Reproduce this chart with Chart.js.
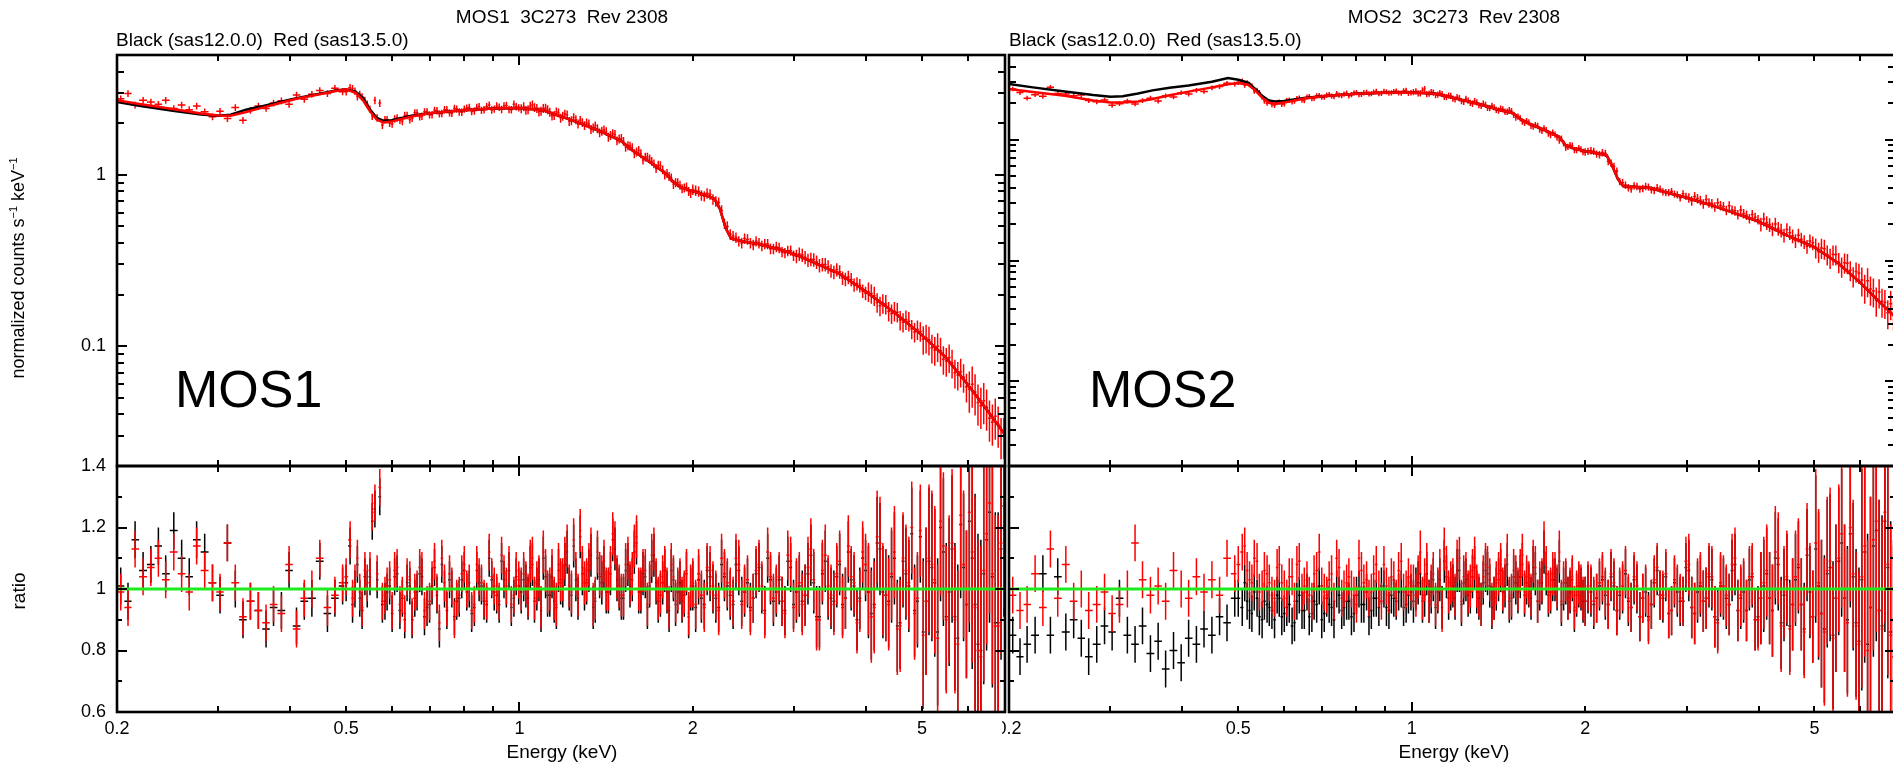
<!DOCTYPE html>
<html>
<head>
<meta charset="utf-8">
<script src="https://cdn.jsdelivr.net/npm/chart.js@4.4.1/dist/chart.umd.min.js"></script>
<style>
    html, body { margin: 0; padding: 0; background: #fff; width: 1893px; height: 764px; overflow: hidden; }
    canvas { position: absolute; left: 0; top: 0; }
    .txt { position: absolute; font-family: "Liberation Sans", Arial, Helvetica, sans-serif; color: #000; line-height: 1; white-space: pre; }
    .txt sup { font-size: 11px; position: relative; top: -1px; vertical-align: top; }
    .mask { position: absolute; background: #fff; }
</style>
</head>
<body>
<canvas id="mos1Spec" width="1900" height="764"></canvas>
<canvas id="mos1Ratio" width="1900" height="764"></canvas>
<canvas id="mos2Spec" width="1900" height="764"></canvas>
<canvas id="mos2Ratio" width="1900" height="764"></canvas>
<!-- the MOS1 page overlaps the left edge of the MOS2 "0.2" label -->
<div class="mask" style="left:990px;top:716px;width:12px;height:26px"></div>

<div class="txt" style="left:562px;top:7px;font-size:19px;transform:translateX(-50%)">MOS1  3C273  Rev 2308</div>
<div class="txt" style="left:1454px;top:7px;font-size:19px;transform:translateX(-50%)">MOS2  3C273  Rev 2308</div>
<div class="txt" style="left:116px;top:30px;font-size:19px">Black (sas12.0.0)  Red (sas13.5.0)</div>
<div class="txt" style="left:1009px;top:30px;font-size:19px">Black (sas12.0.0)  Red (sas13.5.0)</div>
<div class="txt" style="left:18px;top:268px;font-size:18px;transform:translate(-50%,-50%) rotate(-90deg)">normalized counts s<sup>−1</sup> keV<sup>−1</sup></div>
<div class="txt" style="left:18px;top:591px;font-size:19px;transform:translate(-50%,-50%) rotate(-90deg)">ratio</div>
<div class="txt" style="left:175px;top:363px;font-size:52px">MOS1</div>
<div class="txt" style="left:1089px;top:363px;font-size:52px">MOS2</div>
<div class="txt" style="left:562px;top:742px;font-size:19px;transform:translateX(-50%)">Energy (keV)</div>
<div class="txt" style="left:1454px;top:742px;font-size:19px;transform:translateX(-50%)">Energy (keV)</div>

<script>
// bin centres (keV), shared by both cameras
const energy = [
    0.203, 0.209, 0.215, 0.222, 0.229, 0.236, 0.243, 0.251, 0.259, 0.267, 0.275, 0.284, 0.293, 0.302, 0.311, 0.321, 0.331, 0.341, 0.352, 0.363, 0.374, 0.386, 0.398, 0.410, 0.423, 0.436, 0.450, 0.464, 0.478, 0.493,
    0.508, 0.518, 0.528, 0.539, 0.550, 0.561, 0.572, 0.584, 0.595, 0.607, 0.620, 0.632, 0.645, 0.658, 0.671, 0.684, 0.698, 0.712, 0.726, 0.741, 0.756, 0.771, 0.786, 0.802, 0.818, 0.835, 0.851, 0.868, 0.886, 0.904, 0.922, 0.940, 0.959, 0.978, 0.997,
    1.017, 1.035, 1.053, 1.072, 1.090, 1.110, 1.129, 1.149, 1.169, 1.189, 1.210, 1.231, 1.253, 1.275, 1.297, 1.320, 1.343, 1.366, 1.390, 1.415, 1.439, 1.465, 1.490, 1.516, 1.543, 1.570, 1.597, 1.625, 1.654, 1.683, 1.712, 1.742, 1.773, 1.804, 1.835, 1.867, 1.900, 1.933, 1.967, 2.000,
    2.047, 2.094, 2.143, 2.193, 2.244, 2.296, 2.350, 2.404, 2.460, 2.518, 2.576, 2.636, 2.698, 2.761, 2.825, 2.891, 2.958, 3.027, 3.098, 3.170, 3.244, 3.319, 3.397, 3.476, 3.557, 3.640, 3.725, 3.812, 3.900, 3.991,
    4.084, 4.180, 4.277, 4.377, 4.479, 4.583, 4.690, 4.800, 4.911, 5.026, 5.143, 5.263, 5.386, 5.511, 5.640, 5.771, 5.906, 6.043, 6.184, 6.329, 6.476, 6.627, 6.782, 6.940, 7.100
];
// extra, narrower bins above 0.5 keV
const energyFine = [
    0.500, 0.513, 0.523, 0.533, 0.544, 0.555, 0.566, 0.578, 0.589, 0.601, 0.613, 0.626, 0.638, 0.651, 0.664, 0.677, 0.691, 0.705, 0.719, 0.733, 0.748, 0.763, 0.778, 0.794, 0.810, 0.826, 0.843, 0.859, 0.877, 0.895, 0.913, 0.931, 0.949, 0.968, 0.987, 1.007,
    1.026, 1.044, 1.062, 1.081, 1.100, 1.119, 1.139, 1.159, 1.179, 1.199, 1.220, 1.242, 1.264, 1.286, 1.308, 1.331, 1.354, 1.378, 1.402, 1.427, 1.452, 1.477, 1.503, 1.529, 1.556, 1.583, 1.611, 1.639, 1.668, 1.697, 1.727, 1.757, 1.788, 1.819, 1.851, 1.883, 1.916, 1.950, 1.983, 2.023,
    2.070, 2.118, 2.168, 2.218, 2.270, 2.323, 2.377, 2.432, 2.489, 2.547, 2.606, 2.667, 2.729, 2.793, 2.858, 2.924, 2.992, 3.062, 3.134, 3.207, 3.281, 3.358, 3.436, 3.516, 3.598, 3.682, 3.768, 3.856, 3.945, 4.037,
    4.132, 4.228, 4.327, 4.428, 4.531, 4.636, 4.745, 4.855, 4.968, 5.084, 5.203, 5.324, 5.448, 5.575, 5.705, 5.838, 5.974, 6.113, 6.256, 6.402, 6.551, 6.704, 6.861, 7.020
];

// red data, normalized counts s-1 keV-1
const mos1Counts = [
    2.78, 2.98, 2.55, 2.72, 2.66, 2.58, 2.72, 2.44, 2.55, 2.40, 2.52, 2.33, 2.18,
    2.35, 2.13, 2.47, 2.08, 2.38, 2.52, 2.44, 2.62, 2.70, 2.58, 2.92, 2.76, 2.95, 3.10, 2.98, 3.20, 3.05,
    3.22, 3.08, 2.95, 2.72, 2.42, 2.72, 2.62, 2.10, 2.00, 2.12, 2.08, 2.22, 2.10, 2.30, 2.18, 2.33, 2.24, 2.38, 2.27, 2.40, 2.30, 2.44, 2.33, 2.42, 2.47, 2.36, 2.50, 2.40, 2.55, 2.42, 2.48, 2.52, 2.41, 2.58, 2.46,
    2.50, 2.40, 2.56, 2.44, 2.35, 2.45, 2.32, 2.22, 2.30, 2.20, 2.24, 2.07, 2.10, 2.08, 1.94, 1.98, 1.88, 1.86, 1.80, 1.79, 1.70, 1.72, 1.62, 1.57, 1.48, 1.44, 1.36, 1.33, 1.27, 1.24, 1.16, 1.14, 1.07, 1.02, 0.96, 0.90, 0.87, 0.84, 0.80, 0.82,
    0.80, 0.75, 0.77, 0.70, 0.62, 0.50, 0.44, 0.41, 0.425, 0.40, 0.41, 0.385, 0.395, 0.37, 0.375, 0.35, 0.362, 0.335, 0.34, 0.318, 0.32, 0.296, 0.30, 0.276, 0.28, 0.25, 0.253, 0.228, 0.226, 0.204,
    0.203, 0.18, 0.178, 0.16, 0.16, 0.142, 0.143, 0.126, 0.125, 0.11, 0.109, 0.095, 0.094, 0.082, 0.08, 0.068, 0.066, 0.056, 0.054, 0.045, 0.044, 0.036, 0.035, 0.03, 0.029
];
const mos1CountsFine = [
    3.05, 3.18, 2.86, 2.85, 2.58, 2.20, 2.15, 1.95, 2.10, 1.98, 2.15, 2.05, 2.22, 2.14, 2.30, 2.20, 2.34, 2.24, 2.37, 2.28, 2.40, 2.29, 2.42, 2.32, 2.45, 2.34, 2.47, 2.38, 2.50, 2.39, 2.52, 2.41, 2.54, 2.40, 2.50, 2.43,
    2.38, 2.52, 2.47, 2.33, 2.44, 2.40, 2.21, 2.33, 2.14, 2.26, 2.05, 2.16, 1.98, 2.02, 2.01, 1.84, 1.93, 1.76, 1.83, 1.66, 1.74, 1.58, 1.63, 1.45, 1.47, 1.33, 1.39, 1.22, 1.27, 1.20, 1.09, 1.13, 1.00, 0.98, 0.88, 0.90, 0.83, 0.85, 0.78, 0.81,
    0.76, 0.78, 0.72, 0.69, 0.52, 0.45, 0.43, 0.40, 0.42, 0.39, 0.40, 0.395, 0.37, 0.38, 0.355, 0.36, 0.338, 0.345, 0.33, 0.322, 0.31, 0.30, 0.291, 0.27, 0.272, 0.246, 0.245, 0.232, 0.21, 0.208,
    0.197, 0.172, 0.176, 0.155, 0.158, 0.138, 0.14, 0.121, 0.122, 0.112, 0.098, 0.10, 0.084, 0.086, 0.07, 0.071, 0.058, 0.06, 0.047, 0.048, 0.038, 0.039, 0.03, 0.031
];
const mos2Counts = [
    2.62, 2.45, 2.20, 2.35, 2.28, 2.70, 2.40, 2.38, 2.30, 2.33, 2.10, 2.05, 2.12,
    1.92, 1.98, 2.08, 1.97, 2.10, 2.20, 2.08, 2.30, 2.25, 2.44, 2.38, 2.55, 2.50, 2.68, 2.74, 2.92, 2.88,
    3.05, 2.95, 2.78, 2.55, 2.25, 2.00, 1.95, 2.02, 1.96, 2.10, 2.05, 2.18, 2.12, 2.24, 2.18, 2.30, 2.24, 2.33, 2.29, 2.40, 2.31, 2.42, 2.35, 2.45, 2.37, 2.46, 2.40, 2.50, 2.41, 2.48, 2.43, 2.52, 2.42, 2.55, 2.44,
    2.50, 2.41, 2.62, 2.40, 2.45, 2.36, 2.38, 2.25, 2.30, 2.15, 2.20, 2.05, 2.10, 1.98, 2.03, 1.90, 1.94, 1.82, 1.85, 1.74, 1.78, 1.70, 1.72, 1.52, 1.50, 1.38, 1.39, 1.28, 1.30, 1.18, 1.20, 1.09, 1.10, 0.98, 0.93, 0.87, 0.89, 0.82, 0.83, 0.79,
    0.81, 0.76, 0.78, 0.66, 0.60, 0.45, 0.42, 0.39, 0.41, 0.395, 0.405, 0.38, 0.39, 0.365, 0.372, 0.35, 0.356, 0.33, 0.338, 0.315, 0.32, 0.296, 0.30, 0.28, 0.283, 0.258, 0.262, 0.238, 0.24, 0.218,
    0.22, 0.198, 0.20, 0.178, 0.18, 0.16, 0.162, 0.143, 0.145, 0.128, 0.127, 0.112, 0.112, 0.097, 0.096, 0.083, 0.081, 0.069, 0.068, 0.056, 0.055, 0.045, 0.044, 0.036, 0.035
];
const mos2CountsFine = [
    2.98, 2.82, 2.86, 2.52, 2.45, 2.08, 2.06, 1.92, 2.04, 1.97, 2.12, 2.08, 2.20, 2.10, 2.27, 2.19, 2.31, 2.25, 2.36, 2.27, 2.33, 2.38, 2.30, 2.43, 2.36, 2.44, 2.39, 2.47, 2.40, 2.50, 2.42, 2.49, 2.43, 2.53, 2.41, 2.47,
    2.41, 2.55, 2.38, 2.47, 2.33, 2.42, 2.26, 2.31, 2.18, 2.25, 2.08, 2.17, 2.01, 2.08, 1.93, 1.98, 1.83, 1.90, 1.76, 1.80, 1.70, 1.75, 1.60, 1.55, 1.41, 1.42, 1.30, 1.32, 1.21, 1.24, 1.12, 1.14, 1.04, 1.02, 0.86, 0.90, 0.82, 0.85, 0.79, 0.80,
    0.80, 0.75, 0.77, 0.64, 0.55, 0.44, 0.40, 0.415, 0.39, 0.41, 0.385, 0.40, 0.37, 0.365, 0.355, 0.33, 0.34, 0.312, 0.325, 0.295, 0.30, 0.278, 0.285, 0.26, 0.262, 0.24, 0.245, 0.222, 0.228, 0.20,
    0.205, 0.182, 0.184, 0.162, 0.17, 0.146, 0.15, 0.131, 0.14, 0.118, 0.125, 0.105, 0.112, 0.089, 0.095, 0.074, 0.079, 0.06, 0.058, 0.047, 0.046, 0.037, 0.036, 0.03
];

// data / model ratios
const mos1RatioRed = [
    0.99, 0.94, 1.13, 1.04, 1.07, 1.10, 1.03, 1.12, 1.05, 0.99, 1.14, 1.06, 1.02,
    0.99, 1.15, 1.02, 0.91, 0.96, 0.93, 0.89, 0.95, 0.92, 1.08, 0.87, 0.97, 1.00, 1.10, 0.94, 0.98, 1.02,
    1.16, 1.02, 0.99, 1.06, 1.06, 1.28, 1.33, 0.98, 1.03, 1.06, 0.95, 0.92, 1.03, 0.99, 1.07, 0.93, 0.96, 1.09, 0.89, 1.02, 1.05, 0.90, 0.98, 1.08, 1.02, 0.95, 1.04, 0.97, 1.12, 1.01, 0.96, 1.05, 1.08, 0.98, 1.03,
    1.05, 0.98, 1.10, 1.02, 0.94, 1.06, 1.00, 0.97, 1.08, 1.03, 1.14, 0.99, 1.05, 1.19, 1.02, 1.08, 0.95, 1.12, 1.04, 1.00, 1.07, 1.15, 1.01, 0.98, 1.10, 1.05, 1.17, 1.00, 1.06, 1.02, 1.13, 0.97, 1.04, 1.00, 1.08, 0.96, 1.03, 0.99, 0.92, 1.02,
    1.05, 0.94, 1.06, 0.98, 1.10, 1.02, 0.96, 1.08, 1.00, 0.93, 1.06, 1.01, 1.12, 0.97, 1.04, 0.92, 1.09, 1.00, 0.95, 1.07, 1.03, 0.90, 1.11, 0.98, 1.05, 0.94, 1.14, 1.02, 0.96, 1.08,
    0.91, 1.17, 1.00, 0.95, 1.12, 0.88, 1.06, 1.20, 0.97, 0.85, 1.10, 1.03, 1.22, 0.90, 1.15, 0.82, 1.08, 1.25, 0.94, 0.78, 1.18, 1.05, 0.88, 1.30, 0.92
];
const mos1RatioRedFine = [
    1.04, 0.97, 1.10, 0.94, 1.02, 1.25, 1.05, 0.96, 1.01, 0.93, 1.07, 0.98, 1.04, 0.91, 1.00, 1.06, 0.95, 1.03, 0.99, 1.10, 0.94, 1.01, 0.97, 1.05, 1.00, 0.93, 1.08, 1.02, 0.96, 1.04, 0.99, 1.11, 1.01, 0.95, 1.06, 1.00,
    1.02, 1.09, 0.97, 1.04, 1.12, 0.99, 1.06, 0.95, 1.03, 1.10, 1.01, 1.16, 0.98, 1.07, 1.03, 1.13, 0.97, 1.05, 1.09, 1.00, 1.18, 1.04, 0.98, 1.08, 1.02, 1.14, 1.00, 1.06, 0.95, 1.11, 1.03, 0.99, 1.07, 0.94, 1.04, 1.00, 0.97, 1.06, 1.01, 0.95,
    0.98, 1.07, 1.01, 0.93, 1.05, 0.99, 1.10, 0.95, 1.03, 0.97, 1.08, 0.92, 1.04, 1.00, 0.96, 1.11, 0.94, 1.02, 0.98, 1.13, 0.90, 1.06, 1.01, 0.95, 1.09, 0.97, 1.04, 0.89, 1.12, 1.00,
    0.94, 1.15, 0.98, 1.05, 0.87, 1.10, 1.02, 0.92, 1.19, 0.96, 1.08, 0.84, 1.14, 1.00, 0.90, 1.24, 0.95, 1.12, 0.80, 1.06, 1.28, 0.88, 1.15, 0.75
];
const mos1RatioBlack = [
    1.01, 0.96, 1.16, 1.06, 1.08, 1.14, 1.05, 1.19, 1.10, 1.04, 1.16, 1.12, 1.02,
    0.98, 1.15, 1.00, 0.90, 0.96, 0.93, 0.87, 0.94, 0.93, 1.06, 0.88, 0.96, 0.97, 1.09, 0.92, 0.97, 1.01,
    1.14, 1.00, 0.97, 1.04, 1.04, 1.26, 1.30, 0.96, 1.01, 1.04, 0.93, 0.90, 1.01, 0.97, 1.05, 0.91, 0.95, 1.07, 0.87, 1.00, 1.03, 0.91, 0.97, 1.06, 1.00, 0.94, 1.02, 0.96, 1.10, 0.99, 0.95, 1.03, 1.06, 0.97, 1.01,
    1.03, 0.97, 1.08, 1.00, 0.93, 1.04, 0.98, 0.96, 1.06, 1.01, 1.12, 0.98, 1.03, 1.17, 1.00, 1.06, 0.94, 1.10, 1.02, 0.99, 1.05, 1.13, 1.00, 0.97, 1.08, 1.03, 1.15, 0.99, 1.04, 1.01, 1.11, 0.96, 1.02, 0.99, 1.06, 0.95, 1.02, 0.98, 0.91, 1.01,
    1.03, 0.95, 1.04, 0.97, 1.08, 1.01, 0.95, 1.06, 0.99, 0.94, 1.05, 1.00, 1.10, 0.96, 1.03, 0.93, 1.07, 0.99, 0.96, 1.05, 1.02, 0.91, 1.09, 0.97, 1.04, 0.95, 1.12, 1.01, 0.97, 1.06,
    0.92, 1.15, 0.99, 0.96, 1.10, 0.89, 1.05, 1.18, 0.96, 0.86, 1.09, 1.02, 1.20, 0.91, 1.13, 0.84, 1.07, 1.22, 0.95, 0.80, 1.16, 1.04, 0.89, 1.27, 0.93
];
const mos1RatioBlackFine = [
    1.02, 0.95, 1.08, 0.93, 1.00, 1.22, 1.03, 0.95, 0.99, 0.92, 1.05, 0.97, 1.02, 0.90, 0.99, 1.04, 0.94, 1.01, 0.98, 1.08, 0.93, 1.00, 0.96, 1.03, 0.99, 0.92, 1.06, 1.01, 0.95, 1.03, 0.98, 1.09, 1.00, 0.94, 1.04, 0.99,
    1.01, 1.07, 0.96, 1.03, 1.10, 0.98, 1.04, 0.94, 1.02, 1.08, 1.00, 1.14, 0.97, 1.05, 1.02, 1.11, 0.96, 1.04, 1.07, 0.99, 1.16, 1.03, 0.97, 1.06, 1.01, 1.12, 0.99, 1.05, 0.94, 1.09, 1.02, 0.98, 1.06, 0.93, 1.03, 0.99, 0.96, 1.05, 1.00, 0.94,
    0.97, 1.06, 1.00, 0.94, 1.04, 0.98, 1.08, 0.96, 1.02, 0.97, 1.07, 0.93, 1.03, 0.99, 0.96, 1.09, 0.95, 1.01, 0.98, 1.11, 0.91, 1.05, 1.00, 0.96, 1.08, 0.97, 1.03, 0.90, 1.10, 0.99,
    0.95, 1.13, 0.98, 1.04, 0.88, 1.09, 1.01, 0.93, 1.17, 0.96, 1.07, 0.86, 1.12, 0.99, 0.91, 1.21, 0.95, 1.10, 0.82, 1.05, 1.25, 0.89, 1.13, 0.78
];
const mos2RatioRed = [
    0.98, 0.93, 0.95, 1.05, 0.94, 1.13, 0.97, 1.08, 0.96, 1.00, 0.93, 0.95, 0.99,
    0.92, 0.95, 1.00, 1.15, 1.03, 0.98, 1.01, 0.96, 1.06, 1.00, 0.97, 1.04, 0.99, 1.03, 0.98, 1.10, 1.05,
    1.12, 1.06, 1.02, 1.09, 1.00, 1.05, 0.98, 1.07, 1.02, 0.97, 1.04, 1.08, 0.99, 1.03, 0.96, 1.06, 1.01, 0.98, 1.05, 1.10, 0.97, 1.02, 1.00, 0.95, 1.06, 1.03, 0.99, 1.08, 0.96, 1.01, 1.04, 0.97, 1.09, 1.00, 1.02,
    0.98, 1.12, 1.03, 0.96, 1.05, 1.00, 0.93, 1.07, 1.02, 0.98, 1.10, 1.04, 0.99, 1.06, 1.01, 0.95, 1.08, 1.03, 0.97, 1.05, 1.00, 1.11, 0.98, 1.04, 1.06, 0.99, 1.02, 1.09, 0.96, 1.03, 1.07, 1.00, 1.05, 1.12, 1.02, 0.97, 1.04, 0.99, 1.01, 0.96,
    1.00, 0.97, 1.04, 0.95, 1.02, 0.99, 1.06, 0.94, 1.01, 0.97, 0.90, 1.03, 0.98, 1.05, 0.93, 1.00, 0.96, 1.08, 0.92, 1.02, 0.97, 1.04, 0.89, 1.01, 0.95, 1.10, 0.98, 0.93, 1.05, 0.90,
    1.02, 0.97, 1.12, 0.88, 1.04, 0.95, 1.08, 0.86, 1.00, 1.15, 0.92, 1.06, 0.84, 1.10, 0.97, 1.20, 0.88, 1.04, 0.80, 1.16, 0.93, 1.25, 0.85, 1.10, 0.95
];
const mos2RatioRedFine = [
    1.08, 1.14, 1.03, 1.10, 0.99, 1.06, 1.02, 0.97, 1.08, 1.00, 1.04, 0.96, 1.09, 1.01, 0.98, 1.05, 1.12, 0.99, 1.03, 0.96, 1.07, 1.00, 1.04, 0.98, 1.10, 1.02, 0.97, 1.05, 1.00, 1.08, 0.98, 1.03, 1.06, 0.99, 1.04, 1.01,
    1.04, 0.97, 1.08, 1.01, 0.95, 1.06, 1.13, 0.99, 1.03, 1.09, 0.96, 1.05, 1.01, 1.10, 0.98, 1.04, 1.07, 0.95, 1.02, 1.08, 1.03, 0.97, 1.06, 1.00, 1.11, 1.04, 0.98, 1.07, 1.02, 1.15, 0.99, 1.05, 1.01, 0.96, 1.03, 1.00, 0.94, 1.02, 0.97, 1.01,
    0.96, 1.02, 0.99, 1.05, 0.93, 1.01, 0.97, 1.04, 0.91, 1.00, 0.95, 1.07, 0.98, 0.92, 1.03, 0.97, 1.09, 0.94, 1.00, 0.96, 1.05, 0.91, 1.02, 0.98, 1.08, 0.93, 1.00, 1.04, 0.90, 0.97,
    1.06, 0.93, 1.10, 0.99, 0.87, 1.04, 0.95, 1.13, 0.91, 1.02, 0.86, 1.09, 0.97, 1.18, 0.89, 1.05, 0.82, 1.14, 0.94, 1.22, 0.87, 1.08, 0.78, 1.16
];
const mos2RatioBlack = [
    0.85, 0.78, 0.82, 0.85, 1.05, 0.85, 1.04, 0.86, 0.90, 0.84, 0.78, 0.82, 0.88,
    0.86, 0.97, 0.85, 0.82, 0.88, 0.79, 0.83, 0.74, 0.80, 0.76, 0.84, 0.82, 0.87, 0.85, 0.91, 0.89, 0.97,
    0.94, 0.96, 0.92, 0.97, 0.90, 0.95, 0.93, 0.98, 0.91, 0.94, 0.88, 0.96, 0.93, 0.99, 0.92, 0.95, 0.90, 0.97, 0.94, 1.00, 0.93, 0.96, 0.91, 0.98, 0.95, 0.99, 0.93, 0.97, 1.01, 0.94, 0.98, 0.96, 1.00, 0.95, 0.99,
    1.00, 1.05, 0.98, 0.96, 1.03, 0.99, 0.94, 1.04, 1.00, 0.97, 1.06, 1.02, 0.98, 1.04, 0.99, 0.95, 1.06, 1.01, 0.97, 1.03, 0.99, 1.08, 0.97, 1.02, 1.04, 0.98, 1.01, 1.07, 0.96, 1.02, 1.05, 0.99, 1.03, 1.09, 1.00, 0.97, 1.03, 0.98, 1.00, 0.96,
    0.99, 0.97, 1.03, 0.95, 1.01, 0.98, 1.05, 0.94, 1.00, 0.97, 0.91, 1.02, 0.98, 1.04, 0.93, 0.99, 0.96, 1.06, 0.92, 1.01, 0.97, 1.03, 0.90, 1.00, 0.95, 1.08, 0.97, 0.93, 1.04, 0.91,
    1.01, 0.97, 1.10, 0.89, 1.03, 0.95, 1.07, 0.87, 0.99, 1.13, 0.92, 1.05, 0.85, 1.09, 0.97, 1.18, 0.89, 1.03, 0.82, 1.14, 0.93, 1.22, 0.86, 1.08, 0.95
];
const mos2RatioBlackFine = [
    0.97, 1.02, 0.93, 0.99, 0.91, 0.96, 0.94, 0.90, 0.97, 0.92, 0.95, 0.89, 0.98, 0.93, 0.91, 0.96, 1.01, 0.92, 0.95, 0.90, 0.98, 0.94, 0.96, 0.92, 1.00, 0.95, 0.91, 0.97, 0.94, 1.00, 0.93, 0.97, 0.99, 0.94, 0.98, 0.96,
    1.02, 0.96, 1.05, 0.99, 0.94, 1.03, 1.09, 0.97, 1.01, 1.06, 0.95, 1.03, 0.99, 1.07, 0.97, 1.02, 1.05, 0.94, 1.00, 1.06, 1.01, 0.96, 1.04, 0.99, 1.08, 1.02, 0.97, 1.05, 1.00, 1.12, 0.98, 1.03, 1.00, 0.95, 1.02, 0.99, 0.93, 1.01, 0.96, 1.00,
    0.95, 1.01, 0.98, 1.04, 0.93, 1.00, 0.96, 1.03, 0.91, 0.99, 0.95, 1.06, 0.97, 0.92, 1.02, 0.96, 1.07, 0.94, 0.99, 0.96, 1.04, 0.91, 1.01, 0.97, 1.06, 0.93, 0.99, 1.03, 0.90, 0.97,
    1.05, 0.93, 1.08, 0.98, 0.88, 1.03, 0.95, 1.11, 0.91, 1.01, 0.87, 1.07, 0.97, 1.15, 0.90, 1.04, 0.83, 1.12, 0.94, 1.19, 0.88, 1.07, 0.80, 1.14
];

// folded models
const modelEnergy = [0.2, 0.22, 0.25, 0.28, 0.30, 0.315, 0.335, 0.355, 0.38, 0.41, 0.45, 0.48, 0.50, 0.52, 0.535, 0.55, 0.565, 0.58, 0.60, 0.65,
    0.70, 0.80, 0.90, 1.0, 1.1, 1.2, 1.3, 1.4, 1.5, 1.55, 1.6, 1.7, 1.8, 1.85, 1.9, 2.0, 2.1, 2.18, 2.23, 2.28,
    2.33, 2.45, 2.6, 2.8, 3.0, 3.3, 3.6, 4.0, 4.5, 5.0, 5.5, 6.0, 6.5, 7.1];
const mos1ModelRed = [2.72, 2.58, 2.42, 2.28, 2.22, 2.21, 2.32, 2.45, 2.60, 2.78, 2.95, 3.08, 3.15, 3.00, 2.72, 2.35, 2.10, 2.02, 2.05, 2.19,
    2.29, 2.38, 2.44, 2.45, 2.38, 2.15, 1.95, 1.76, 1.58, 1.44, 1.33, 1.16, 1.01, 0.91, 0.85, 0.80, 0.765, 0.725, 0.63, 0.49,
    0.425, 0.408, 0.395, 0.37, 0.345, 0.30, 0.264, 0.208, 0.155, 0.116, 0.086, 0.06, 0.042, 0.028];
const mos1ModelBlack = [2.66, 2.52, 2.36, 2.25, 2.21, 2.24, 2.40, 2.50, 2.64, 2.80, 2.97, 3.10, 3.15, 3.05, 2.80, 2.40, 2.15, 2.07, 2.08, 2.21,
    2.29, 2.38, 2.44, 2.45, 2.38, 2.15, 1.95, 1.76, 1.58, 1.44, 1.33, 1.16, 1.01, 0.91, 0.85, 0.80, 0.765, 0.725, 0.63, 0.49,
    0.425, 0.408, 0.395, 0.37, 0.345, 0.30, 0.264, 0.208, 0.155, 0.116, 0.086, 0.06, 0.042, 0.028];
const mos2ModelRed = [2.62, 2.47, 2.30, 2.10, 2.02, 2.02, 2.06, 2.16, 2.32, 2.49, 2.70, 2.87, 2.93, 2.84, 2.55, 2.22, 2.02, 1.98, 2.02, 2.18,
    2.28, 2.39, 2.44, 2.45, 2.39, 2.17, 1.98, 1.79, 1.65, 1.46, 1.35, 1.20, 1.06, 0.90, 0.85, 0.80, 0.77, 0.74, 0.60, 0.47,
    0.41, 0.405, 0.398, 0.36, 0.33, 0.288, 0.25, 0.21, 0.16, 0.129, 0.095, 0.066, 0.045, 0.03];
const mos2ModelBlack = [2.88, 2.70, 2.50, 2.33, 2.26, 2.28, 2.40, 2.55, 2.68, 2.80, 3.00, 3.22, 3.12, 2.95, 2.62, 2.30, 2.10, 2.06, 2.08, 2.21,
    2.28, 2.39, 2.44, 2.45, 2.39, 2.17, 1.98, 1.79, 1.65, 1.46, 1.35, 1.20, 1.06, 0.90, 0.85, 0.80, 0.77, 0.74, 0.60, 0.47,
    0.41, 0.405, 0.398, 0.36, 0.33, 0.288, 0.25, 0.21, 0.16, 0.129, 0.095, 0.066, 0.045, 0.03];

// error sizes per energy band (upper band edges in keV)
const errEdges = [0.5, 1, 2, 3, 4, 5, 6, 7.2];
const errCounts = [0.045, 0.05, 0.06, 0.07, 0.09, 0.13, 0.19, 0.27];   // relative
const errRatio = [0.06, 0.06, 0.07, 0.08, 0.1, 0.15, 0.24, 0.36];       // absolute

// axes
const xTickLabels = [0.2, 0.5, 1, 2, 5];
const xMinor = [0.3, 0.4, 0.5, 0.6, 0.7, 0.8, 0.9, 2, 3, 4, 5, 6, 7];
const xMajor = [1];
const mos1SpecLabels = [0.1, 1];
const mos1SpecMinor = [0.03, 0.04, 0.05, 0.06, 0.07, 0.08, 0.09, 0.2, 0.3, 0.4, 0.5, 0.6, 0.7, 0.8, 0.9, 2, 3, 4];
const mos2SpecMinor = [0.003, 0.004, 0.005, 0.006, 0.007, 0.008, 0.009, 0.02, 0.03, 0.04, 0.05, 0.06, 0.07, 0.08, 0.09, 0.2, 0.3, 0.4, 0.5, 0.6, 0.7, 0.8, 0.9, 2, 3, 4];
const mos2SpecMajor = [0.01, 0.1, 1];
const ratioLabels = [0.6, 0.8, 1, 1.2, 1.4];
const ratioMinor = [0.7, 0.9, 1.1, 1.3];
const ratioMajor = [0.8, 1, 1.2];
const unity = 1;

const FONT = '"Liberation Sans", Arial, Helvetica, sans-serif';

// merge the two bin sets in energy order
const allEnergy = energy.concat(energyFine);
const sortIdx = allEnergy.map((e, i) => i).sort((a, b) => allEnergy[a] - allEnergy[b]);
const bins = sortIdx.map(i => allEnergy[i]);

function merged(coarse, fine) {
    const all = coarse.concat(fine);
    return sortIdx.map(i => all[i]);
}

function errFor(table, e) {
    for (let i = 0; i < errEdges.length; i++) {
        if (e < errEdges[i]) return table[i];
    }
    return table[table.length - 1];
}

function binEdges(i) {
    const n = bins.length;
    const lo = i > 0 ? Math.sqrt(bins[i - 1] * bins[i]) : bins[0] / Math.sqrt(bins[1] / bins[0]);
    const hi = i < n - 1 ? Math.sqrt(bins[i] * bins[i + 1]) : bins[n - 1] * Math.sqrt(bins[n - 1] / bins[n - 2]);
    return [lo, hi];
}

function countPoints(values) {
    return values.map((v, i) => {
        const [lo, hi] = binEdges(i);
        const r = errFor(errCounts, bins[i]);
        return {x: bins[i], y: v, xMin: lo, xMax: hi, yMin: v * (1 - r), yMax: v * (1 + r)};
    });
}

function ratioPoints(values) {
    return values.map((v, i) => {
        const [lo, hi] = binEdges(i);
        const r = errFor(errRatio, bins[i]);
        return {x: bins[i], y: v, xMin: lo, xMax: hi, yMin: v - r, yMax: v + r};
    });
}

function modelPoints(values) {
    return modelEnergy.map((e, i) => ({x: e, y: values[i]}));
}

// crosses: one horizontal bar for the bin, one vertical bar for the error
const errorBars = {
    id: 'errorBars',
    afterDatasetDraw(chart, args) {
        const ds = chart.data.datasets[args.index];
        if (!ds.errorBars) return;
        const {ctx, chartArea: a} = chart;
        const xs = chart.scales.x, ys = chart.scales.y;
        ctx.save();
        ctx.beginPath();
        ctx.rect(a.left, a.top, a.right - a.left, a.bottom - a.top);
        ctx.clip();
        ctx.strokeStyle = ds.borderColor;
        ctx.lineWidth = 1.5;
        ctx.beginPath();
        ds.data.forEach(p => {
            const px = xs.getPixelForValue(p.x);
            const py = ys.getPixelForValue(p.y);
            ctx.moveTo(xs.getPixelForValue(p.xMin), py);
            ctx.lineTo(xs.getPixelForValue(p.xMax), py);
            ctx.moveTo(px, ys.getPixelForValue(p.yMin));
            ctx.lineTo(px, ys.getPixelForValue(p.yMax));
        });
        ctx.stroke();
        ctx.restore();
    }
};

// box with inward ticks on all four sides
const frame = {
    id: 'frame',
    afterDraw(chart, args, opts) {
        const {ctx, chartArea: a} = chart;
        const xs = chart.scales.x, ys = chart.scales.y;
        const inX = v => v >= xs.min && v <= xs.max;
        const inY = v => v >= ys.min && v <= ys.max;
        ctx.save();
        ctx.strokeStyle = '#000';
        ctx.lineWidth = 2;
        ctx.beginPath();
        const xt = (list, len) => list.filter(inX).forEach(v => {
            const px = Math.round(xs.getPixelForValue(v));
            ctx.moveTo(px, a.top); ctx.lineTo(px, a.top + len);
            ctx.moveTo(px, a.bottom); ctx.lineTo(px, a.bottom - len);
        });
        const yt = (list, len) => list.filter(inY).forEach(v => {
            const py = Math.round(ys.getPixelForValue(v));
            ctx.moveTo(a.left, py); ctx.lineTo(a.left + len, py);
            ctx.moveTo(a.right, py); ctx.lineTo(a.right - len, py);
        });
        xt(opts.xMinor, 6);
        xt(opts.xMajor, 10);
        yt(opts.yMinor, opts.yMinorLen);
        yt(opts.yMajor, 10);
        ctx.stroke();
        ctx.lineWidth = 2.6;
        ctx.strokeRect(a.left, a.top, a.right - a.left, a.bottom - a.top);
        ctx.restore();
    }
};

function panel(id, p) {
    return new Chart(document.getElementById(id), {
        type: 'scatter',
        data: {datasets: p.datasets},
        options: {
            responsive: false,
            animation: false,
            devicePixelRatio: 1,
            events: [],
            layout: {padding: p.padding},
            plugins: {
                legend: {display: false},
                tooltip: {enabled: false},
                frame: p.frame
            },
            scales: {
                x: {
                    type: 'logarithmic',
                    min: p.xMin,
                    max: p.xMax,
                    display: p.xAxisHeight > 0,
                    grid: {display: false, drawTicks: false},
                    border: {display: false},
                    ticks: {
                        color: '#000',
                        font: {family: FONT, size: 18},
                        padding: 6,
                        autoSkip: false,
                        maxRotation: 0,
                        callback: v => String(v)
                    },
                    afterBuildTicks: s => { s.ticks = xTickLabels.map(v => ({value: v})); },
                    afterFit: s => { s.height = p.xAxisHeight; s.paddingLeft = 0; s.paddingRight = 0; }
                },
                y: {
                    type: p.yType,
                    min: p.yMin,
                    max: p.yMax,
                    display: p.yAxisWidth > 0,
                    grid: {display: false, drawTicks: false},
                    border: {display: false},
                    ticks: {
                        color: '#000',
                        font: {family: FONT, size: 18},
                        padding: 11,
                        autoSkip: false,
                        callback: v => String(v)
                    },
                    afterBuildTicks: s => { s.ticks = p.yLabels.map(v => ({value: v})); },
                    afterFit: s => { s.width = p.yAxisWidth; s.paddingTop = 0; s.paddingBottom = 0; }
                }
            }
        },
        plugins: [errorBars, frame]
    });
}

function specSets(counts, modelRed, modelBlack) {
    return [
        {label: 'model red', data: modelPoints(modelRed), showLine: true, borderColor: '#ff0000', borderWidth: 2.5, pointRadius: 0, tension: 0, order: 0},
        {label: 'model black', data: modelPoints(modelBlack), showLine: true, borderColor: '#000000', borderWidth: 2.5, pointRadius: 0, tension: 0, order: 1},
        {label: 'data red', data: countPoints(counts), errorBars: true, borderColor: '#ff0000', pointRadius: 0, order: 2}
    ];
}

function ratioSets(red, black, xMin, xMax) {
    return [
        {label: 'unity', data: [{x: xMin, y: unity}, {x: xMax, y: unity}], showLine: true, borderColor: 'rgb(30,235,30)', borderWidth: 3, pointRadius: 0, order: 0},
        {label: 'ratio red', data: ratioPoints(red), errorBars: true, borderColor: '#ff0000', pointRadius: 0, order: 1},
        {label: 'ratio black', data: ratioPoints(black), errorBars: true, borderColor: '#000000', pointRadius: 0, order: 2}
    ];
}

const mos1X = [0.2, 6.97];
const mos2X = [0.2, 6.9];

panel('mos1Spec', {
    datasets: specSets(merged(mos1Counts, mos1CountsFine), mos1ModelRed, mos1ModelBlack),
    padding: {left: 0, right: 895, top: 55, bottom: 298},
    xMin: mos1X[0], xMax: mos1X[1], xAxisHeight: 0,
    yType: 'logarithmic', yMin: 0.02, yMax: 5, yLabels: mos1SpecLabels, yAxisWidth: 117,
    frame: {xMinor, xMajor, yMinor: mos1SpecMinor, yMajor: mos1SpecLabels, yMinorLen: 7}
});

panel('mos1Ratio', {
    datasets: ratioSets(merged(mos1RatioRed, mos1RatioRedFine), merged(mos1RatioBlack, mos1RatioBlackFine), mos1X[0], mos1X[1]),
    padding: {left: 0, right: 895, top: 466, bottom: 0},
    xMin: mos1X[0], xMax: mos1X[1], xAxisHeight: 52,
    yType: 'linear', yMin: 0.6, yMax: 1.4, yLabels: ratioLabels, yAxisWidth: 117,
    frame: {xMinor, xMajor, yMinor: ratioMinor, yMajor: ratioMajor, yMinorLen: 5}
});

panel('mos2Spec', {
    datasets: specSets(merged(mos2Counts, mos2CountsFine), mos2ModelRed, mos2ModelBlack),
    padding: {left: 1009, right: 5, top: 55, bottom: 298},
    xMin: mos2X[0], xMax: mos2X[1], xAxisHeight: 0,
    yType: 'logarithmic', yMin: 0.002, yMax: 5, yLabels: [], yAxisWidth: 0,
    frame: {xMinor, xMajor, yMinor: mos2SpecMinor, yMajor: mos2SpecMajor, yMinorLen: 7}
});

panel('mos2Ratio', {
    datasets: ratioSets(merged(mos2RatioRed, mos2RatioRedFine), merged(mos2RatioBlack, mos2RatioBlackFine), mos2X[0], mos2X[1]),
    padding: {left: 1009, right: 5, top: 466, bottom: 0},
    xMin: mos2X[0], xMax: mos2X[1], xAxisHeight: 52,
    yType: 'linear', yMin: 0.6, yMax: 1.4, yLabels: [], yAxisWidth: 0,
    frame: {xMinor, xMajor, yMinor: ratioMinor, yMajor: ratioMajor, yMinorLen: 5}
});
</script>
</body>
</html>
